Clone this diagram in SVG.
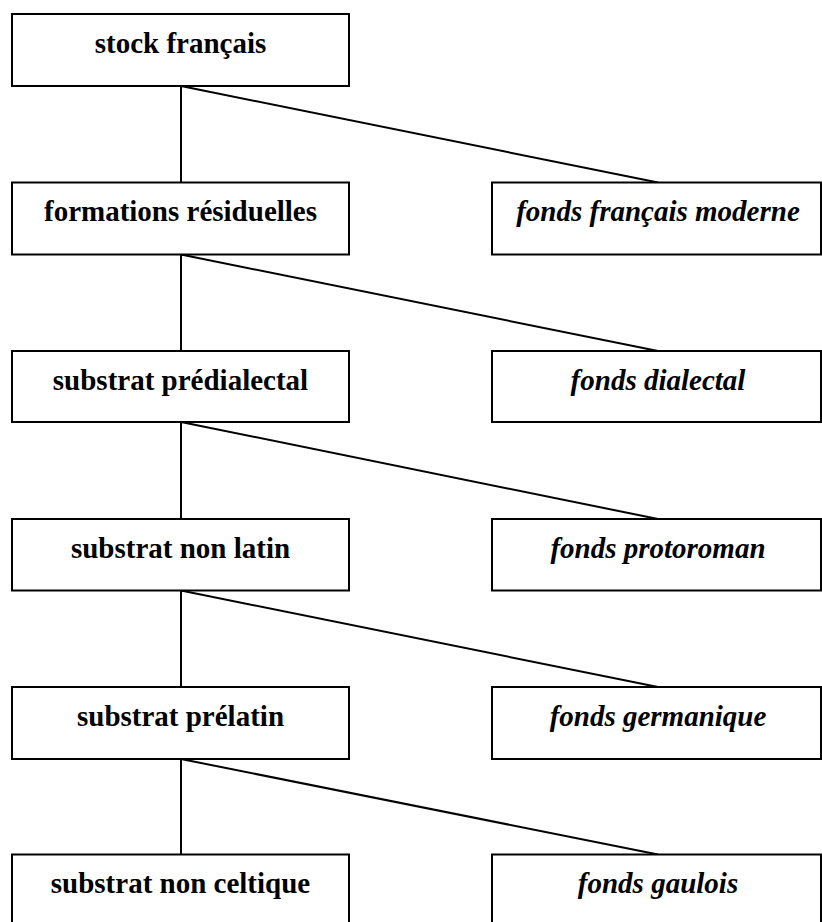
<svg xmlns="http://www.w3.org/2000/svg" width="822" height="922" viewBox="0 0 822 922">
  <style>
    rect { fill: #ffffff; stroke: #000000; stroke-width: 2; }
    .links line { stroke: #000000; stroke-width: 2; }
    text { font-family: "Liberation Serif", "Times New Roman", serif; font-size: 29px; font-weight: bold; text-anchor: middle; fill: #000000; }
    .it { font-style: italic; }
  </style>

  <!-- connectors -->
  <g class="links">
    <line x1="181" y1="86" x2="181" y2="182.5"/>
    <line x1="181" y1="86" x2="658" y2="182.5"/>
    <line x1="181" y1="254.5" x2="181" y2="351"/>
    <line x1="181" y1="254.5" x2="658" y2="351"/>
    <line x1="181" y1="422" x2="181" y2="519"/>
    <line x1="181" y1="422" x2="658" y2="519"/>
    <line x1="181" y1="590.5" x2="181" y2="687"/>
    <line x1="181" y1="590.5" x2="658" y2="687"/>
    <line x1="181" y1="759" x2="181" y2="854.5"/>
    <line x1="181" y1="759" x2="658" y2="854.5"/>
  </g>

  <!-- left column -->
  <g id="stock-francais">
    <rect x="12" y="14" width="337" height="72"/>
    <text x="180.5" y="52.5">stock français</text>
  </g>
  <g id="formations-residuelles">
    <rect x="12" y="182.5" width="337" height="72"/>
    <text x="180.5" y="221">formations résiduelles</text>
  </g>
  <g id="substrat-predialectal">
    <rect x="12" y="351" width="337" height="71"/>
    <text x="180.5" y="389.5">substrat prédialectal</text>
  </g>
  <g id="substrat-non-latin">
    <rect x="12" y="519" width="337" height="71.5"/>
    <text x="180.5" y="557.5">substrat non latin</text>
  </g>
  <g id="substrat-prelatin">
    <rect x="12" y="687" width="337" height="72"/>
    <text x="180.5" y="725.5">substrat prélatin</text>
  </g>
  <g id="substrat-non-celtique">
    <rect x="12" y="854.5" width="337" height="72"/>
    <text x="180.5" y="893">substrat non celtique</text>
  </g>

  <!-- right column -->
  <g id="fonds-francais-moderne">
    <rect x="492" y="182.5" width="329" height="72"/>
    <text class="it" x="658" y="221">fonds français moderne</text>
  </g>
  <g id="fonds-dialectal">
    <rect x="492" y="351" width="329" height="71"/>
    <text class="it" x="658" y="389.5">fonds dialectal</text>
  </g>
  <g id="fonds-protoroman">
    <rect x="492" y="519" width="329" height="71.5"/>
    <text class="it" x="658" y="557.5">fonds protoroman</text>
  </g>
  <g id="fonds-germanique">
    <rect x="492" y="687" width="329" height="72"/>
    <text class="it" x="658" y="725.5">fonds germanique</text>
  </g>
  <g id="fonds-gaulois">
    <rect x="492" y="854.5" width="329" height="72"/>
    <text class="it" x="658" y="893">fonds gaulois</text>
  </g>
</svg>
